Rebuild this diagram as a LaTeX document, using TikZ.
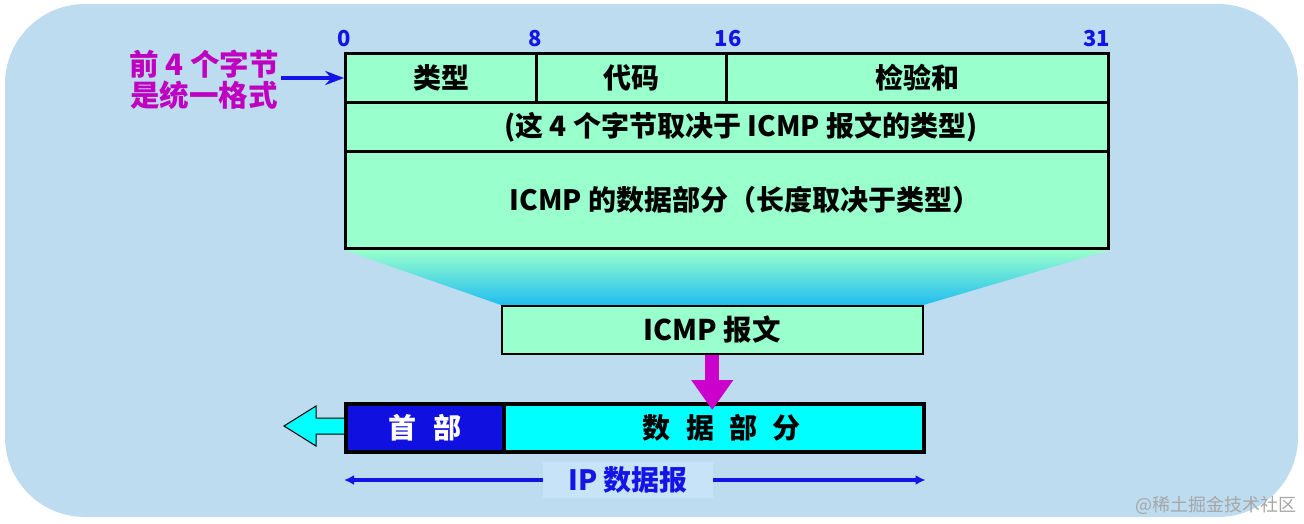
\documentclass[tikz,border=0pt]{standalone}
\usepackage{fontspec}
\setmainfont{Noto Sans CJK SC}
\usepackage{tikz}
\usetikzlibrary{arrows.meta,positioning,calc,backgrounds}

\definecolor{bgblue}{HTML}{BDDCF0}
\definecolor{lblbg}{HTML}{C6E3F7}
\definecolor{mint}{HTML}{99FFCC}
\definecolor{funnelblue}{HTML}{20BDF0}
\definecolor{hdrblue}{HTML}{1010E0}
\definecolor{brightcyan}{HTML}{00FFFF}
\definecolor{bitblue}{HTML}{1414E6}
\definecolor{magtext}{HTML}{C000C0}
\definecolor{magarrow}{HTML}{CC00CC}

\begin{document}
\begin{tikzpicture}[
  x=1pt, y=-1pt,
  >=Stealth,
  every node/.style={font=\bfseries},
  field/.style={draw, line width=3pt, fill=mint, anchor=north west, inner sep=0pt,
    minimum height=49pt, font=\bfseries\fontsize{28}{30}\selectfont},
  bit/.style={text=bitblue, inner sep=0pt, font=\bfseries\fontsize{22}{24}\selectfont},
  note/.style={text=magtext, align=center, inner sep=0pt, font=\bfseries\fontsize{29.5}{31}\selectfont},
  cell/.style={draw, line width=3.5pt, anchor=north west, inner sep=0pt,
    minimum height=48pt, font=\bfseries\fontsize{28}{30}\selectfont},
  arr/.style={->, line width=3pt, bitblue}
]

\useasboundingbox (0,0) rectangle (1304,523);

%--------------------------------------------------
% ICMP header fields
%--------------------------------------------------
\node[field, minimum width=191pt] (type) at (344,52) {类型};
\node[field, minimum width=190pt] (code) at (535,52) {代码};
\node[field, minimum width=382pt] (sum) at (725,52) {检验和};
\node[field, minimum width=763pt] (rest) at (344,101) {\hspace{28pt}(这 4 个字节取决于 ICMP 报文的类型)};
\node[field, minimum width=763pt, minimum height=97pt] (data) at (344,150) {\hspace{36pt}ICMP 的数据部分（长度取决于类型）};

% bit positions
\node[bit, above=5pt of type.north west] (b0) {0};
\node[bit, above=5pt of code.north west] (b8) {8};
\node[bit, above=5pt of sum.north west, xshift=3pt] (b16) {16};
\node[bit, anchor=south east] (b31) at ([yshift=5pt]sum.north east) {31};

% left note
\node[note] (first) at (204,80) {前 4 个字节\\是统一格式};
\draw[arr, line width=3.5pt] ([xshift=2pt]first.east |- type.west) -- (type.west);

%--------------------------------------------------
% ICMP message
%--------------------------------------------------
\node[draw, line width=1.5pt, fill=mint, anchor=north west, inner sep=0pt,
      minimum width=421pt, minimum height=48pt,
      font=\bfseries\fontsize{28.5}{30}\selectfont] (msg) at (501,305) {ICMP 报文};

%--------------------------------------------------
% IP datagram
%--------------------------------------------------
\draw[fill=brightcyan, line width=1pt] (344,418) -- (316,418) -- (316,406) -- (284,426)
  -- (316,446) -- (316,434) -- (344,434);

\node[cell, fill=hdrblue, text=white, minimum width=158pt] (hdr) at (344,402) {首\hspace{0.6em}部};
\node[cell, fill=brightcyan, minimum width=420pt] (payload) at (502,402)
  {\hspace{16pt}数\hspace{0.55em}据\hspace{0.55em}部\hspace{0.55em}分};

\draw[magarrow, line width=14pt, -{Triangle[width=40pt,length=30pt]}]
  (msg.south) -- ([yshift=-8pt]msg.south |- payload.north);

% datagram length
\node[fill=lblbg, text=bitblue, inner xsep=25pt, inner ysep=5pt,
      font=\bfseries\fontsize{28}{30}\selectfont] (iplen) at (628,480) {IP 数据报};
\draw[arr, line width=3.5pt, {Latex[length=10pt,width=10pt]}-] (hdr.south west |- iplen) -- (iplen.west);
\draw[arr, line width=3.5pt, -{Latex[length=10pt,width=10pt]}] (iplen.east) -- (payload.south east |- iplen);

\node[anchor=east, text=gray!70, font=\mdseries\fontsize{18}{20}\selectfont] (mark) at (1300,505) {@稀土掘金技术社区};

%--------------------------------------------------
% background and funnel
%--------------------------------------------------
\begin{scope}[on background layer]
\fill[bgblue, rounded corners=80pt] (5,4) rectangle (1298,517);
\shade[top color=mint, bottom color=funnelblue]
  (data.south west) -- (data.south east) -- (msg.north east) -- (msg.north west) -- cycle;
\end{scope}

\end{tikzpicture}
\end{document}
